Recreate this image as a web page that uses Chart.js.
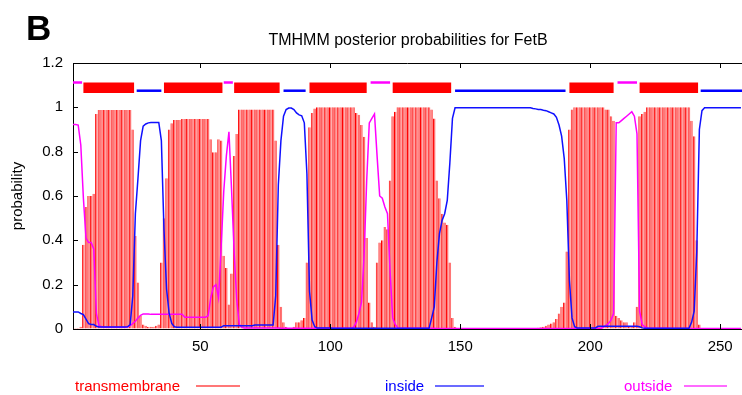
<!DOCTYPE html>
<html lang="en">
<head>
    <meta charset="UTF-8">
    <title>TMHMM posterior probabilities for FetB</title>
    <script src="https://cdnjs.cloudflare.com/ajax/libs/Chart.js/4.4.1/chart.umd.min.js"></script>
    <style>
        html, body { margin: 0; padding: 0; background: #fff; overflow: hidden; }
        #wrap { position: relative; width: 742px; height: 395px; }
    </style>
</head>
<body>
<div id="wrap"><canvas id="myChart"></canvas></div>
<script>
    // posterior probabilities per residue (residue 1..258)
    const tmProb = [
        0.003,0.005,0.005,0.01,0.38,0.55,0.60,0.60,0.61,0.97,
        0.988,0.988,0.988,0.988,0.988,0.988,0.988,0.988,0.988,0.988,
        0.988,0.988,0.988,0.90,0.42,0.21,0.06,0.02,0.015,0.01,
        0.01,0.01,0.015,0.02,0.30,0.50,0.68,0.90,0.928,0.943,
        0.943,0.943,0.947,0.947,0.947,0.947,0.947,0.947,0.947,0.947,
        0.947,0.947,0.947,0.856,0.797,0.797,0.856,0.85,0.33,0.275,
        0.11,0.25,0.78,0.88,0.99,0.99,0.99,0.99,0.99,0.99,
        0.99,0.99,0.99,0.99,0.99,0.99,0.99,0.99,0.85,0.38,
        0.10,0.03,0.01,0.005,0.005,0.01,0.03,0.03,0.04,0.05,
        0.30,0.91,0.974,0.995,1,1,1,1,1,1,
        1,1,1,1,1,1,1,1,1,0.975,
        0.966,0.92,0.867,0.41,0.12,0.03,0.01,0.30,0.39,0.40,
        0.46,0.45,0.67,0.96,0.98,1,1,1,1,1,
        1,1,1,1,1,1,1,1,0.99,0.95,
        0.67,0.59,0.52,0.48,0.47,0.30,0.05,0.01,0.005,0.003,
        0.003,0.003,0.003,0.003,0.003,0.003,0.003,0.003,0.003,0.003,
        0.003,0.003,0.003,0.003,0.003,0.003,0.003,0.003,0.003,0.003,
        0.003,0.003,0.003,0.003,0.003,0.003,0.003,0.004,0.005,0.006,
        0.008,0.01,0.015,0.02,0.025,0.03,0.045,0.07,0.10,0.12,
        0.35,0.90,0.99,1,1,1,1,1,1,1,
        1,1,1,1,1,0.99,0.99,0.96,0.94,0.06,
        0.05,0.04,0.03,0.03,0.015,0.01,0.03,0.10,0.96,0.97,
        0.98,1,1,1,1,1,1,1,1,1,
        1,1,1,1,1,1,1,1,0.94,0.87,
        0.40,0.02,0.005,0.003,0.003,0.003,0.003,0.003,0.003,0.003,
        0.003,0.003,0.003,0.003,0.003,0.003,0.003,0.003
    ];
    const insideProb = [
        0.077,0.077,0.077,0.07,0.065,0.045,0.024,0.02,0.02,0.012,
        0.009,0.009,0.009,0.009,0.009,0.009,0.009,0.009,0.009,0.009,
        0.009,0.01,0.02,0.15,0.52,0.68,0.85,0.915,0.925,0.93,
        0.932,0.932,0.932,0.932,0.85,0.45,0.18,0.07,0.025,0.01,
        0.008,0.008,0.008,0.008,0.008,0.008,0.008,0.008,0.008,0.008,
        0.008,0.008,0.008,0.008,0.008,0.008,0.008,0.008,0.015,0.015,
        0.015,0.015,0.015,0.015,0.015,0.015,0.015,0.015,0.015,0.015,
        0.018,0.018,0.018,0.018,0.018,0.018,0.018,0.018,0.15,0.65,
        0.85,0.96,0.99,0.997,0.997,0.99,0.975,0.966,0.962,0.93,
        0.70,0.17,0.04,0.01,0.004,0.004,0.004,0.004,0.004,0.004,
        0.003,0.003,0.003,0.003,0.003,0.003,0.003,0.003,0.003,0.003,
        0.003,0.003,0.003,0.003,0.003,0.003,0.003,0.003,0.003,0.003,
        0.003,0.003,0.003,0.003,0.003,0.003,0.003,0.003,0.003,0.003,
        0.003,0.003,0.003,0.003,0.003,0.003,0.003,0.003,0.05,0.10,
        0.30,0.43,0.49,0.52,0.58,0.75,0.95,0.998,0.998,0.998,
        0.998,0.998,0.998,0.998,0.998,0.998,0.998,0.998,0.998,0.998,
        0.998,0.998,0.998,0.998,0.998,0.998,0.998,0.998,0.998,0.998,
        0.998,0.998,0.998,0.998,0.998,0.998,0.998,0.995,0.993,0.99,
        0.99,0.987,0.985,0.98,0.975,0.97,0.955,0.92,0.87,0.77,
        0.58,0.22,0.05,0.01,0.005,0.005,0.005,0.005,0.005,0.005,
        0.005,0.005,0.012,0.012,0.012,0.012,0.012,0.012,0.012,0.012,
        0.012,0.012,0.012,0.012,0.012,0.012,0.012,0.012,0.01,0.005,
        0.003,0.003,0.003,0.003,0.003,0.003,0.003,0.003,0.003,0.003,
        0.003,0.003,0.003,0.003,0.003,0.003,0.003,0.003,0.03,0.08,
        0.35,0.90,0.985,0.998,0.998,0.998,0.998,0.998,0.998,0.998,
        0.998,0.998,0.998,0.998,0.998,0.998,0.998,0.998
    ];
    const outsideProb = [
        0.923,0.923,0.92,0.83,0.59,0.41,0.39,0.39,0.36,0.07,
        0.015,0.01,0.008,0.008,0.008,0.008,0.008,0.008,0.008,0.008,
        0.008,0.01,0.015,0.025,0.035,0.05,0.062,0.068,0.068,0.068,
        0.066,0.066,0.066,0.066,0.066,0.066,0.066,0.066,0.066,0.066,
        0.066,0.066,0.066,0.053,0.053,0.053,0.053,0.053,0.053,0.053,
        0.053,0.053,0.06,0.14,0.19,0.20,0.14,0.37,0.62,0.78,
        0.89,0.63,0.35,0.13,0.02,0.008,0.004,0.004,0.004,0.004,
        0.004,0.004,0.004,0.004,0.004,0.004,0.004,0.004,0.004,0.004,
        0.003,0.003,0.003,0.003,0.003,0.003,0.003,0.003,0.003,0.003,
        0.003,0.003,0.003,0.003,0.003,0.003,0.003,0.003,0.003,0.003,
        0.003,0.003,0.003,0.003,0.003,0.003,0.003,0.005,0.008,0.03,
        0.07,0.12,0.33,0.67,0.93,0.95,0.97,0.78,0.60,0.59,
        0.55,0.52,0.26,0.05,0.02,0.005,0.003,0.003,0.003,0.003,
        0.003,0.003,0.003,0.003,0.003,0.003,0.003,0.003,0.003,0.003,
        0.002,0.002,0.002,0.002,0.002,0.002,0.002,0.002,0.002,0.002,
        0.002,0.002,0.002,0.002,0.002,0.002,0.002,0.002,0.002,0.002,
        0.002,0.002,0.002,0.002,0.002,0.002,0.002,0.002,0.002,0.002,
        0.002,0.002,0.002,0.002,0.002,0.002,0.002,0.002,0.002,0.002,
        0.002,0.002,0.002,0.002,0.002,0.002,0.002,0.002,0.002,0.002,
        0.002,0.002,0.002,0.002,0.002,0.002,0.002,0.002,0.002,0.002,
        0.002,0.002,0.002,0.002,0.008,0.015,0.025,0.04,0.07,0.93,
        0.93,0.94,0.95,0.96,0.97,0.98,0.96,0.88,0.08,0.02,
        0.01,0.005,0.003,0.003,0.003,0.003,0.003,0.003,0.003,0.003,
        0.002,0.002,0.002,0.002,0.002,0.002,0.002,0.002,0.002,0.002,
        0.002,0.002,0.002,0.002,0.002,0.002,0.002,0.002,0.002,0.002,
        0.002,0.002,0.002,0.002,0.002,0.002,0.002,0.002
    ];

    // predicted topology (residue ranges) shown above the curves
    const segFrom = [1, 5, 25.5, 36, 59, 63, 82, 92, 115.5, 124, 148, 192, 210.5, 219, 242.5];
    const segTo   = [4.5, 24.5, 35, 58.5, 62.5, 80.5, 90.5, 114, 123, 146.5, 190.5, 209, 218, 241.5, 260];
    const segType = ['out', 'tm', 'in', 'tm', 'out', 'tm', 'in', 'tm', 'out', 'tm', 'in', 'tm', 'out', 'tm', 'in'];

    const xTicks = [50, 100, 150, 200, 250];
    const chartTitle = 'TMHMM posterior probabilities for FetB';
    const legendNames = ['transmembrane', 'inside', 'outside'];

    const FONT = "'Liberation Sans', Arial, Helvetica, sans-serif";
    const segLevel = {tm: 1.088, in: 1.075, out: 1.112};
    const segColor = {tm: '#ff0000', in: '#0000ff', out: '#ff00ff'};
    const segWidth = {tm: 10.5, in: 2.5, out: 2.5};

    const points = arr => arr.map((v, i) => ({x: i + 1, y: v}));

    const datasets = [];
    datasets.push({
        type: 'bar',
        label: 'transmembrane',
        data: points(tmProb),
        backgroundColor: '#ff7676',
        borderColor: '#ff0000',
        borderWidth: {left: 1},
        borderSkipped: false,
        inflateAmount: 0,
        barPercentage: 1,
        categoryPercentage: 1,
        order: 3
    });
    datasets.push({
        type: 'line', label: 'inside', data: points(insideProb),
        borderColor: '#1010ff', borderWidth: 1.5, pointRadius: 0, tension: 0, order: 1
    });
    datasets.push({
        type: 'line', label: 'outside', data: points(outsideProb),
        borderColor: '#ff00ff', borderWidth: 1.5, pointRadius: 0, tension: 0, order: 1
    });
    for (let i = 0; i < segFrom.length; i++) {
        const t = segType[i];
        datasets.push({
            type: 'line',
            data: [{x: segFrom[i], y: segLevel[t]}, {x: segTo[i], y: segLevel[t]}],
            borderColor: segColor[t], borderWidth: segWidth[t], borderCapStyle: 'butt',
            pointRadius: 0, order: 2
        });
    }

    // frame, mirrored ticks, panel letter, title and legend
    const figureText = {
        id: 'figureText',
        afterDraw(chart) {
            const ctx = chart.ctx, area = chart.chartArea;
            const xs = chart.scales.x, ys = chart.scales.y;
            ctx.save();
            ctx.strokeStyle = '#000';
            ctx.lineWidth = 1;
            ctx.beginPath();
            ctx.moveTo(area.left, Math.round(area.top) + 0.5);
            ctx.lineTo(area.right, Math.round(area.top) + 0.5);
            xTicks.forEach(v => {
                const px = Math.round(xs.getPixelForValue(v)) + 0.5;
                ctx.moveTo(px, area.bottom); ctx.lineTo(px, area.bottom - 5);
                ctx.moveTo(px, area.top); ctx.lineTo(px, area.top + 5);
            });
            ys.ticks.forEach(t => {
                const py = Math.round(ys.getPixelForValue(t.value)) + 0.5;
                ctx.moveTo(area.left, py); ctx.lineTo(area.left + 5, py);
            });
            ctx.stroke();

            ctx.fillStyle = '#000';
            ctx.textBaseline = 'alphabetic';
            ctx.textAlign = 'left';
            ctx.font = 'bold 35px ' + FONT;
            ctx.fillText('B', 26, 40);
            ctx.font = '16px ' + FONT;
            ctx.textAlign = 'center';
            ctx.fillText(chartTitle, 408, 45);

            const textX = [75, 385, 624];
            const lineX = [[196, 240], [435, 484], [684, 727]];
            const textCol = ['#ff0000', '#0000ff', '#ff00ff'];
            const lineCol = ['#ff4a4a', '#3a3aff', '#ff3aff'];
            ctx.font = '15px ' + FONT;
            ctx.textAlign = 'left';
            for (let i = 0; i < legendNames.length; i++) {
                ctx.fillStyle = textCol[i];
                ctx.fillText(legendNames[i], textX[i], 391);
                ctx.strokeStyle = lineCol[i];
                ctx.lineWidth = 1.5;
                ctx.beginPath();
                ctx.moveTo(lineX[i][0], 386);
                ctx.lineTo(lineX[i][1], 386);
                ctx.stroke();
            }
            ctx.restore();
        }
    };

    new Chart('myChart', {
        type: 'bar',
        data: {datasets: datasets},
        options: {
            responsive: true,
            maintainAspectRatio: false,
            animation: false,
            devicePixelRatio: 1,
            layout: {padding: {left: 0, top: 63, right: 0, bottom: 36}},
            plugins: {
                legend: {display: false},
                tooltip: {enabled: false},
                title: {display: false}
            },
            scales: {
                x: {
                    type: 'linear',
                    min: 1,
                    max: 258.4,
                    offset: false,
                    grid: {offset: false, drawOnChartArea: false, drawTicks: false},
                    border: {color: '#000', width: 1},
                    ticks: {color: '#000', font: {family: FONT, size: 15}, padding: 9, maxRotation: 0},
                    afterBuildTicks: s => { s.ticks = xTicks.map(v => ({value: v})); },
                    afterFit: s => { s.height = 30; }
                },
                y: {
                    min: 0,
                    max: 1.2,
                    grid: {drawOnChartArea: false, drawTicks: false},
                    border: {color: '#000', width: 1},
                    ticks: {
                        stepSize: 0.2, color: '#000', font: {family: FONT, size: 15}, padding: 10,
                        callback: v => String(parseFloat(v.toFixed(1)))
                    },
                    title: {display: true, text: 'probability', color: '#000',
                            font: {family: FONT, size: 15}, padding: {top: 9, bottom: 0}},
                    afterFit: s => { s.width = 73; }
                }
            }
        },
        plugins: [figureText]
    });
</script>
</body>
</html>
